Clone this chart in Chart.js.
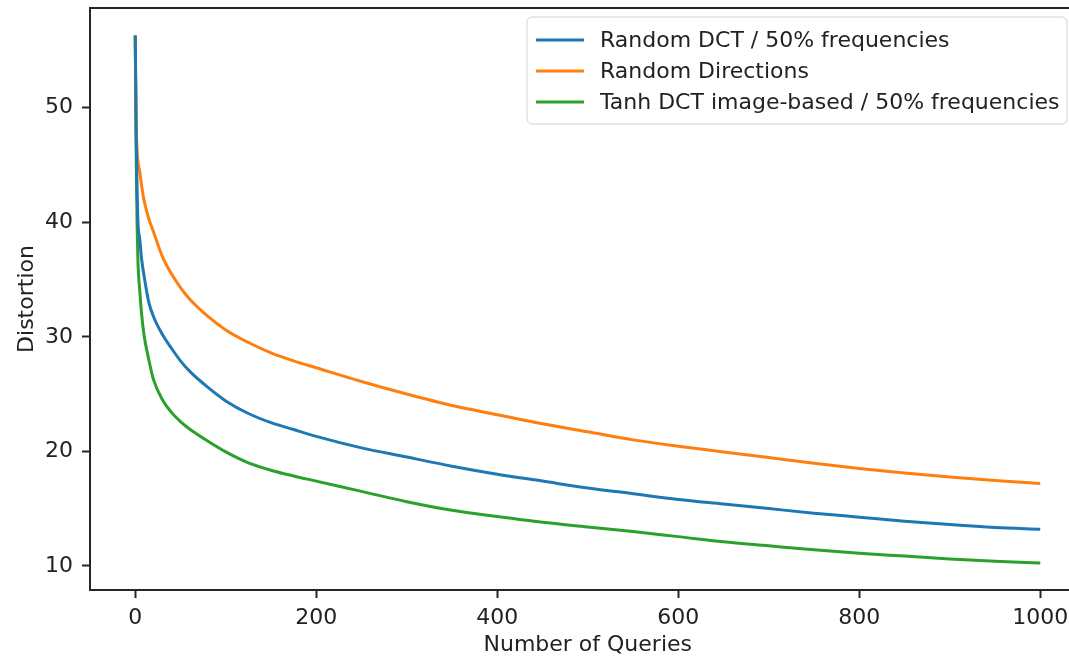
<!DOCTYPE html>
<html>
<head>
<meta charset="utf-8">
<script src="https://cdn.jsdelivr.net/npm/chart.js@4/dist/chart.umd.min.js"></script>
<style>
  html, body { margin: 0; padding: 0; background: #fff; overflow: hidden; }
  #wrap { width: 1069px; height: 658px; }
</style>
</head>
<body>
<div id="wrap"><canvas id="myChart" width="1069" height="658"></canvas></div>
<script>
// query counts (x values)
const queries = [0, 1, 2, 3, 5, 7, 10, 15, 20, 30, 40, 50, 60, 80, 100, 125, 150, 175, 200,
  250, 300, 350, 400, 450, 500, 550, 600, 650, 700, 750, 800, 850, 900, 950, 1000];

// distortion values
const randomDct = [56.3, 48, 43, 40, 38.5, 36.8, 35.2, 33.0, 31.8, 30.2, 29.0, 27.9, 27.0, 25.6, 24.4,
  23.3, 22.5, 21.9, 21.3, 20.3, 19.5, 18.7, 18.0, 17.4, 16.8, 16.3, 15.8, 15.4, 15.0, 14.6,
  14.25, 13.9, 13.6, 13.35, 13.2];
const randomDirections = [56.3, 49, 46.3, 45.3, 44.4, 43.2, 41.8, 40.3, 39.2, 37.0, 35.5, 34.3, 33.3, 31.8, 30.6,
  29.5, 28.6, 27.9, 27.3, 26.1, 25.0, 24.0, 23.2, 22.4, 21.7, 21.0, 20.45, 19.95, 19.45, 18.95,
  18.5, 18.1, 17.75, 17.45, 17.2];
const tanhDct = [56.3, 46, 40, 36.5, 34.0, 32.0, 30.0, 28.0, 26.3, 24.5, 23.4, 22.6, 21.95, 20.9, 19.95,
  19.0, 18.35, 17.85, 17.4, 16.5, 15.6, 14.85, 14.3, 13.8, 13.4, 13.0, 12.55, 12.1, 11.75, 11.4,
  11.1, 10.85, 10.6, 10.4, 10.25];

const seriesLabels = ['Random DCT / 50% frequencies', 'Random Directions', 'Tanh DCT image-based / 50% frequencies'];
const xTicks = [0, 200, 400, 600, 800, 1000];
const yTicks = [10, 20, 30, 40, 50];
const xTitle = 'Number of Queries';

const colors = ['#1f77b4', '#ff7f0e', '#2ca02c'];
const allSeries = [randomDct, randomDirections, tanhDct];

const fontFamily = '"DejaVu Sans", sans-serif';
const textColor = '#222';

// the original plot runs from -50 to 1050, but the picture is cut off
// on the right, so the visible window stops a bit short of that
const xMin = -50, xMax = 1031.8, xMid = 500;

function toPoints(values) {
  return values.map((v, i) => ({ x: queries[i], y: v }));
}

// spines, x axis title and a matplotlib-like legend box
const framePlugin = {
  id: 'frame',
  afterDraw(chart) {
    const ctx = chart.ctx;
    const a = chart.chartArea;
    ctx.save();
    // no right spine in the picture: clear the edge column
    ctx.fillStyle = '#fff';
    ctx.fillRect(a.right - 2, a.top + 1, 4, a.bottom - a.top - 2);

    ctx.strokeStyle = '#262626';
    ctx.lineWidth = 2;
    ctx.beginPath();
    ctx.moveTo(a.right + 2, a.top);
    ctx.lineTo(a.left, a.top);
    ctx.lineTo(a.left, a.bottom);
    ctx.lineTo(a.right + 2, a.bottom);
    ctx.stroke();

    // x title centred on the middle of the full data range
    ctx.font = '22px ' + fontFamily;
    ctx.fillStyle = textColor;
    ctx.textAlign = 'center';
    ctx.textBaseline = 'middle';
    ctx.fillText(xTitle, chart.scales.x.getPixelForValue(xMid), 645);

    // legend
    const bx = 527, by = 17, bw = 540, bh = 107, r = 5;
    ctx.beginPath();
    ctx.moveTo(bx + r, by);
    ctx.lineTo(bx + bw - r, by);
    ctx.arcTo(bx + bw, by, bx + bw, by + r, r);
    ctx.lineTo(bx + bw, by + bh - r);
    ctx.arcTo(bx + bw, by + bh, bx + bw - r, by + bh, r);
    ctx.lineTo(bx + r, by + bh);
    ctx.arcTo(bx, by + bh, bx, by + bh - r, r);
    ctx.lineTo(bx, by + r);
    ctx.arcTo(bx, by, bx + r, by, r);
    ctx.closePath();
    ctx.fillStyle = 'rgba(255,255,255,0.8)';
    ctx.fill();
    ctx.strokeStyle = '#d0d0d0';
    ctx.lineWidth = 1;
    ctx.stroke();

    ctx.textAlign = 'left';
    chart.data.datasets.forEach((ds, i) => {
      const y = 40 + i * 31;
      ctx.strokeStyle = ds.borderColor;
      ctx.lineWidth = 3;
      ctx.beginPath();
      ctx.moveTo(536, y);
      ctx.lineTo(584, y);
      ctx.stroke();
      ctx.fillStyle = textColor;
      ctx.fillText(ds.label, 600, y + 1);
    });
    ctx.restore();
  }
};

const myChart = document.getElementById('myChart');

let lineChart = new Chart(myChart, {
  type: 'line',
  data: {
    datasets: allSeries.map((s, i) => ({
      label: seriesLabels[i],
      data: toPoints(s),
      borderColor: colors[i],
      borderWidth: 3,
      pointRadius: 0,
      fill: false,
      cubicInterpolationMode: 'monotone'
    }))
  },
  options: {
    responsive: false,
    animation: false,
    layout: { padding: { left: 0, top: 8, right: 0, bottom: 0 } },
    plugins: {
      legend: { display: false },
      tooltip: { enabled: false }
    },
    scales: {
      x: {
        type: 'linear',
        min: xMin,
        max: xMax,
        afterBuildTicks: (scale) => { scale.ticks = xTicks.map(v => ({ value: v })); },
        afterFit: (scale) => { scale.height = 68; scale.paddingLeft = 0; scale.paddingRight = 0; },
        grid: { drawOnChartArea: false, tickLength: 8, tickWidth: 2, tickColor: '#262626' },
        border: { display: false },
        ticks: {
          color: textColor, font: { family: fontFamily, size: 22 }, padding: 7, maxRotation: 0,
          callback: (v) => String(v)
        }
      },
      y: {
        min: 7.89,
        max: 58.71,
        afterBuildTicks: (scale) => { scale.ticks = yTicks.map(v => ({ value: v })); },
        afterFit: (scale) => { scale.width = 90; scale.paddingTop = 0; scale.paddingBottom = 0; },
        grid: { drawOnChartArea: false, tickLength: 8, tickWidth: 2, tickColor: '#262626' },
        border: { display: false },
        ticks: { color: textColor, font: { family: fontFamily, size: 22 }, padding: 9 },
        title: {
          display: true,
          text: 'Distortion',
          color: textColor,
          font: { family: fontFamily, size: 22 },
          padding: { top: 14, bottom: 0 }
        }
      }
    }
  },
  plugins: [framePlugin]
});
</script>
</body>
</html>
